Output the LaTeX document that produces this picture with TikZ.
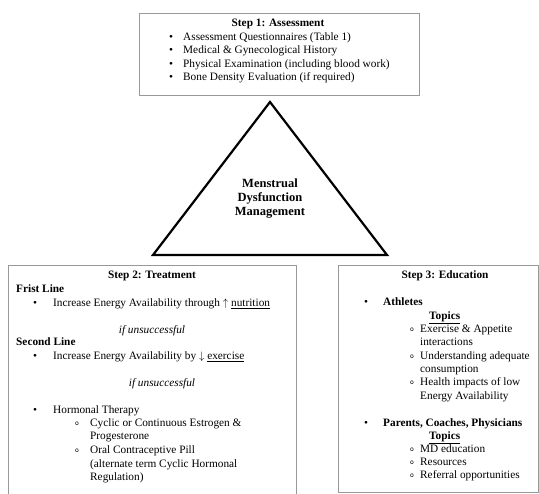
\documentclass[tikz,border=0pt]{standalone}
\usepackage{fontspec}
\setmainfont{Liberation Serif}
\usepackage{tikz}
\usetikzlibrary{positioning}
\tikzstyle{stepbox} = [rectangle, draw=black!40, line width=0.9pt, inner sep=0pt, anchor=north west]
\tikzstyle{tri} = [draw=black, line width=2.2pt, line join=miter]
\tikzstyle{steptitle} = [inner sep=0pt, font=\fontsize{11.3}{13}\bfseries, text height=1.6ex, text depth=0.4ex]
\tikzstyle{head} = [steptitle, anchor=west]
\tikzstyle{item} = [inner sep=0pt, anchor=west, font=\fontsize{11.3}{13}\selectfont, text height=1.6ex, text depth=0.4ex]
\tikzstyle{note} = [inner sep=0pt, font=\fontsize{11.3}{13}\itshape, text height=1.6ex, text depth=0.4ex]
\tikzstyle{dot} = [inner sep=0pt, font=\fontsize{11.3}{13}\selectfont]
\tikzstyle{circ} = [inner sep=0pt, font=\fontsize{8}{9}\ttfamily]
\tikzstyle{centre} = [inner sep=0pt, align=center, font=\fontsize{12.5}{14}\bfseries]

\begin{document}
\begin{tikzpicture}[x=1pt, y=-1pt]
  \useasboundingbox (0,0) rectangle (539,494);

  % the three step boxes
  \node (assessbox) [stepbox, minimum width=280pt, minimum height=82pt] at (139,13) {};
  \node (treatbox) [stepbox, minimum width=288pt, minimum height=235pt] at (8,265) {};
  \node (educbox) [stepbox, minimum width=200pt, minimum height=227pt] at (338,265) {};

  % triangle in the middle
  \coordinate (apex) at (270,102);
  \coordinate (baseleft) at (153,255);
  \coordinate (baseright) at (387,255);
  \draw[tri] (apex) -- (baseright) -- (baseleft) -- cycle;
  \node (mdm) [centre] at (270,199) {Menstrual\\Dysfunction\\Management};

  % step 1
  \node (s1title) [steptitle] at (278,24) {Step 1: Assessment};
  \node (a1dot) [dot] at (171,38) {\textbullet};
  \node (a1) [item] at (183,38) {Assessment Questionnaires (Table 1)};
  \node (a2dot) [dot] at (171,51) {\textbullet};
  \node (a2) [item] at (183,51) {Medical \& Gynecological History};
  \node (a3dot) [dot] at (171,64.5) {\textbullet};
  \node (a3) [item] at (183,64.5) {Physical Examination (including blood work)};
  \node (a4dot) [dot] at (171,78) {\textbullet};
  \node (a4) [item] at (183,78) {Bone Density Evaluation (if required)};

  % step 2
  \node (s2title) [steptitle] at (152,276) {Step 2: Treatment};
  \node (first) [head] at (16,290) {Frist Line};
  \node (t1dot) [dot] at (35,304) {\textbullet};
  \node (t1) [item] at (53,304) {Increase Energy Availability through $\uparrow$ \underline{nutrition}};
  \node (unsucc1) [note] at (152,331) {if unsuccessful};
  \node (second) [head] at (16,343) {Second Line};
  \node (t2dot) [dot] at (35,357) {\textbullet};
  \node (t2) [item] at (53,357) {Increase Energy Availability by $\downarrow$ \underline{exercise}};
  \node (unsucc2) [note] at (162,384) {if unsuccessful};
  \node (t3dot) [dot] at (35,411) {\textbullet};
  \node (t3) [item] at (53,411) {Hormonal Therapy};
  \node (h1circ) [circ] at (77,424) {o};
  \node (h1) [item] at (90,424) {Cyclic or Continuous Estrogen \&};
  \node (h1b) [item] at (90,437) {Progesterone};
  \node (h2circ) [circ] at (77,451) {o};
  \node (h2) [item] at (90,451) {Oral Contraceptive Pill};
  \node (h2b) [item] at (90,464.5) {(alternate term Cyclic Hormonal};
  \node (h2c) [item] at (90,478) {Regulation)};

  % step 3
  \node (s3title) [steptitle] at (445,276) {Step 3: Education};
  \node (e1dot) [dot] at (366,303) {\textbullet};
  \node (athletes) [head] at (383,303) {Athletes};
  \node (topics1) [head] at (429,317) {\underline{Topics}};
  \node (e1circ) [circ] at (412,329.5) {o};
  \node (e1) [item] at (420,329.5) {Exercise \& Appetite};
  \node (e1b) [item] at (420,343) {interactions};
  \node (e2circ) [circ] at (412,356.5) {o};
  \node (e2) [item] at (420,356.5) {Understanding adequate};
  \node (e2b) [item] at (420,369.5) {consumption};
  \node (e3circ) [circ] at (412,383) {o};
  \node (e3) [item] at (420,383) {Health impacts of low};
  \node (e3b) [item] at (420,396.5) {Energy Availability};
  \node (e2dot) [dot] at (366,424) {\textbullet};
  \node (parents) [head] at (383,424) {Parents, Coaches, Physicians};
  \node (topics2) [head] at (429,437) {\underline{Topics}};
  \node (p1circ) [circ] at (412,450) {o};
  \node (p1) [item] at (420,450) {MD education};
  \node (p2circ) [circ] at (412,462.5) {o};
  \node (p2) [item] at (420,462.5) {Resources};
  \node (p3circ) [circ] at (412,476) {o};
  \node (p3) [item] at (420,476) {Referral opportunities};
\end{tikzpicture}
\end{document}
